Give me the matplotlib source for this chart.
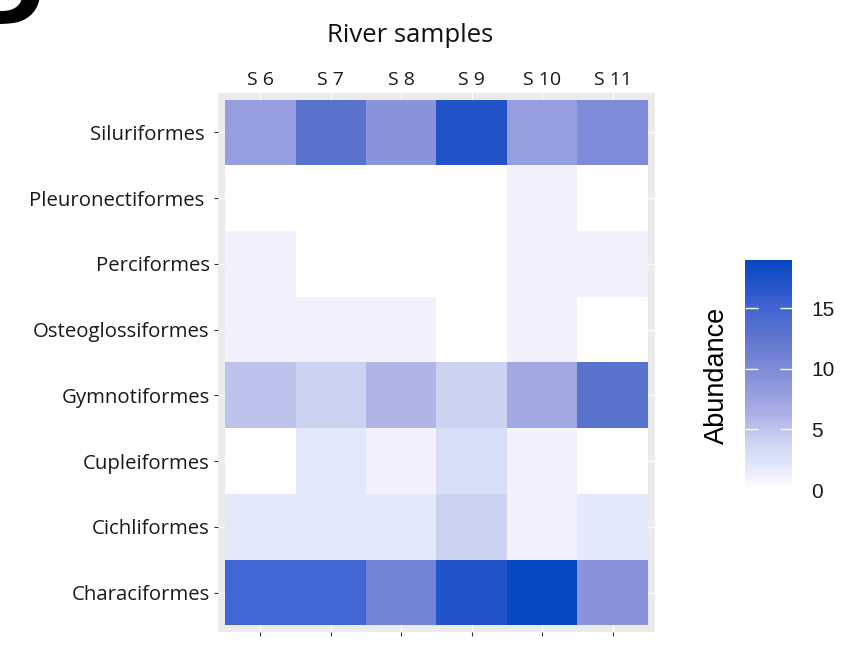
import numpy as np
import matplotlib.pyplot as plt
from matplotlib.colors import LinearSegmentedColormap

# river samples (columns) and fish orders (rows, top to bottom)
samples = ['S 6', 'S 7', 'S 8', 'S 9', 'S 10', 'S 11']
orders = ['Siluriformes ', 'Pleuronectiformes ', 'Perciformes', 'Osteoglossiformes',
          'Gymnotiformes', 'Cupleiformes', 'Cichliformes', 'Characiformes']

siluriformes = [8, 13, 9, 17, 8, 10]
pleuronectiformes = [0, 0, 0, 0, 1, 0]
perciformes = [1, 0, 0, 0, 1, 1]
osteoglossiformes = [1, 1, 1, 0, 1, 0]
gymnotiformes = [5, 4, 6, 4, 7, 13]
cupleiformes = [0, 2, 1, 3, 1, 0]
cichliformes = [2, 2, 2, 4, 1, 2]
characiformes = [15, 15, 11, 17, 19, 9]

cbar_ticks = [0, 5, 10, 15]


def makeColormap():
    # white -> lavender -> blue, close to the ggplot gradient
    stops = [(0.0, '#ffffff'), (0.053, '#f3f1fc'), (0.105, '#e2e8fb'),
             (0.21, '#ccd3f1'), (0.316, '#b0b3e6'), (0.474, '#8a93dc'),
             (0.684, '#5a72cc'), (0.79, '#4265d3'), (0.895, '#2453c8'),
             (1.0, '#0647c2')]
    return LinearSegmentedColormap.from_list('abund', stops)


def plotHeatmap(abundance):
    fig = plt.figure(figsize=(8.45, 6.72), dpi=100)
    ax = fig.add_axes([218/845, 1-632/672, 437/845, 539/672])
    ax.set_facecolor('#ebebeb')

    nrow, ncol = abundance.shape
    mesh = ax.pcolormesh(np.arange(ncol+1)-0.5, np.arange(nrow+1)-0.5, abundance,
                         cmap=makeColormap(), vmin=0, vmax=19, zorder=2)
    ax.set_xlim(-0.6, ncol-0.4)
    ax.set_ylim(nrow-0.4, -0.6)

    #white grid like ggplot
    ax.set_xticks(range(ncol))
    ax.set_yticks(range(nrow))
    ax.grid(True, color='white', lw=0.9, zorder=1)
    ax.set_axisbelow(True)
    for s in ax.spines.values():
        s.set_visible(False)

    ax.set_yticklabels(orders, fontsize=14.7, color='#1a1a1a', family='Open Sans')
    ax.tick_params(axis='y', length=3, width=0.8, color='#333333', pad=3)
    ax.tick_params(axis='x', top=True, bottom=True, labeltop=True, labelbottom=False,
                   length=3, width=0.8, color='#333333', pad=0)
    ax.xaxis.set_tick_params(which='major', top=False)
    ax.set_xticklabels(samples, fontsize=14, color='#1a1a1a', family='Open Sans')

    fig.text(410/845, 1-35/672, 'River samples', ha='center', va='center',
             fontsize=18.5, color='#111111', family='Open Sans')
    fig.text(0.053, 1-24/672, 'D', ha='right', va='baseline', fontsize=64,
             fontweight='bold', family='DejaVu Sans')

    #colorbar on the right
    cax = fig.add_axes([745/845, 1-490/672, 47/845, 230/672])
    cb = fig.colorbar(mesh, cax=cax, ticks=cbar_ticks)
    cb.outline.set_visible(False)
    cax.tick_params(which='both', direction='in', length=9, width=1, color='white',
                    left=True, right=True, labelsize=15, pad=14)
    for t in cax.get_yticklabels():
        t.set_family('Liberation Sans')
        t.set_color('#1a1a1a')
    cax.yaxis.set_label_position('left')
    cax.set_ylabel('Abundance', fontsize=19.5, family='Liberation Sans', labelpad=11)

    plt.savefig('out.png', dpi=100)


def main():
    abundance = np.array([siluriformes, pleuronectiformes, perciformes, osteoglossiformes,
                          gymnotiformes, cupleiformes, cichliformes, characiformes])
    plotHeatmap(abundance)


if __name__ == '__main__':
    main()
